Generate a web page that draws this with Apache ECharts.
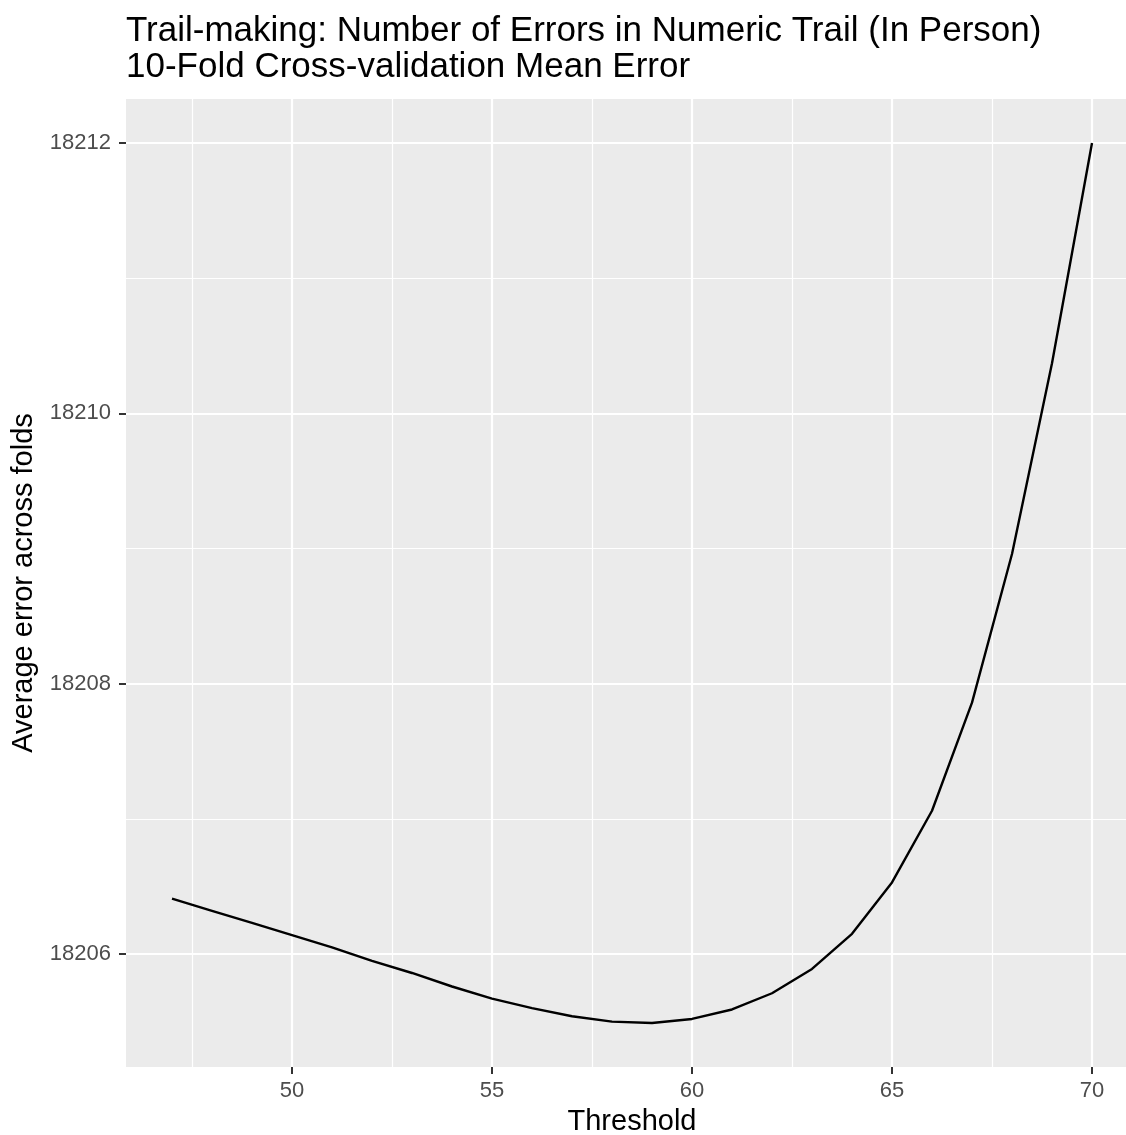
<!DOCTYPE html>
<html><head><meta charset="utf-8">
<script src="https://cdn.jsdelivr.net/npm/echarts@6/dist/echarts.min.js"></script>
<style>html,body{margin:0;padding:0;background:#fff}#c{width:1126px;height:1135px}</style>
</head><body><div id="c"></div>
<script>
const titleLines = ['Trail-making: Number of Errors in Numeric Trail (In Person)', '10-Fold Cross-validation Mean Error'];
const xTitle = 'Threshold';
const yTitle = 'Average error across folds';
const thresholds = [47, 48, 49, 50, 51, 52, 53, 54, 55, 56, 57, 58, 59, 60, 61, 62, 63, 64, 65, 66, 67, 68, 69, 70];
const meanError = [18206.41, 18206.32, 18206.23, 18206.14, 18206.05, 18205.95, 18205.86, 18205.76, 18205.67, 18205.60, 18205.54, 18205.50, 18205.49, 18205.52, 18205.59, 18205.71, 18205.89, 18206.15, 18206.53, 18207.06, 18207.86, 18208.96, 18210.37, 18212.00];
const xMajorTicks = [50, 55, 60, 65, 70];
const xMinorTicks = [47.5, 52.5, 57.5, 62.5, 67.5];
const yMajorTicks = [18206, 18208, 18210, 18212];
const yMinorTicks = [18207, 18209, 18211];

function expand(vals) {
  const lo = Math.min(...vals), hi = Math.max(...vals), pad = (hi - lo) * 0.05;
  return [lo - pad, hi + pad];
}
const xRange = expand(thresholds);
const yRange = expand(meanError);
const points = thresholds.map((t, i) => [t, meanError[i]]);

const FONT = 'Liberation Sans, Arial, Helvetica, sans-serif';
const gridLines = [].concat(
  xMinorTicks.map(v => ({ xAxis: v, lineStyle: { width: 1.2 } })),
  yMinorTicks.map(v => ({ yAxis: v, lineStyle: { width: 1.2 } })),
  xMajorTicks.map(v => ({ xAxis: v, lineStyle: { width: 2.2 } })),
  yMajorTicks.map(v => ({ yAxis: v, lineStyle: { width: 2.2 } }))
);

const chart = echarts.init(document.getElementById('c'), null, { renderer: 'canvas' });
chart.setOption({
  animation: false,
  backgroundColor: '#ffffff',
  textStyle: { fontFamily: FONT },
  title: {
    text: titleLines.join('\n'),
    left: 126, top: 13, padding: 0,
    textStyle: { fontFamily: FONT, fontSize: 35, lineHeight: 36, fontWeight: 'normal', color: '#000000' }
  },
  grid: {
    left: 126, top: 99, width: 1012, height: 968,
    outerBoundsMode: 'none', containLabel: false,
    show: true, backgroundColor: '#EBEBEB', borderWidth: 0
  },
  xAxis: {
    type: 'value', min: xRange[0], max: xRange[1],
    axisLine: { show: false },
    axisTick: { show: true, customValues: xMajorTicks, length: 7, lineStyle: { color: '#333333', width: 2 } },
    axisLabel: { customValues: xMajorTicks, color: '#4D4D4D', fontSize: 22, margin: 13, fontFamily: FONT, formatter: v => String(v) },
    splitLine: { show: false },
    name: xTitle, nameLocation: 'middle', nameGap: 40,
    nameTextStyle: { fontSize: 29, color: '#000000', fontFamily: FONT }
  },
  yAxis: {
    type: 'value', min: yRange[0], max: yRange[1],
    axisLine: { show: false },
    axisTick: { show: true, customValues: yMajorTicks, length: 7, lineStyle: { color: '#333333', width: 2 } },
    axisLabel: { customValues: yMajorTicks, color: '#4D4D4D', fontSize: 22, margin: 15, fontFamily: FONT, formatter: v => String(v) },
    splitLine: { show: false },
    name: yTitle, nameLocation: 'middle', nameGap: 86,
    nameTextStyle: { fontSize: 29, color: '#000000', fontFamily: FONT }
  },
  series: [
    {
      type: 'line', data: points, z: 1, silent: true,
      showSymbol: false, lineStyle: { opacity: 0 },
      markLine: {
        z: 1, silent: true, symbol: ['none', 'none'], label: { show: false },
        lineStyle: { color: '#FFFFFF', type: 'solid' },
        emphasis: { disabled: true },
        data: gridLines
      }
    },
    {
      type: 'line', data: points, z: 10,
      showSymbol: false, symbol: 'none',
      lineStyle: { color: '#000000', width: 2.4 }
    }
  ]
});
</script></body></html>
